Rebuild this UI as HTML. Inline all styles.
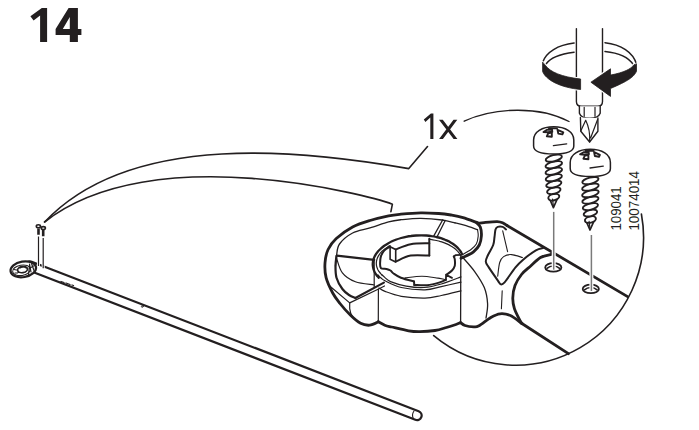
<!DOCTYPE html>
<html><head><meta charset="utf-8">
<style>
html,body{margin:0;padding:0;background:#fff;width:699px;height:430px;overflow:hidden}
svg{position:absolute;left:0;top:0}
.t{font-family:"Liberation Sans",sans-serif;fill:#231f20}
</style></head><body>
<svg width="699" height="430" viewBox="0 0 699 430">

<g fill="none" stroke="#231f20" stroke-linecap="round" stroke-linejoin="round">
<path d="M30.4,16.3 L41.8,8 L47.1,8 L47.1,41.9 L40.1,41.9 L40.1,15.6 L33.6,20.6 Z" fill="#231f20" stroke="none"/>
<path d="M68.6,8 L77.9,8 L77.9,29.1 L81.4,29.1 L81.4,34.9 L77.9,34.9 L77.9,41.9 L69.8,41.9 L69.8,34.9 L55.6,34.9 L55.6,29.1 L68.6,8 Z M62.8,29.1 L69.8,29.1 L69.8,16.9 Z" fill="#231f20" fill-rule="evenodd" stroke="none"/>
<path d="M433.4,113.6 L433.4,139 L430.3,139 L430.3,117.6 L425.4,121.9 L423.8,119.6 L430.9,113.6 Z" fill="#231f20" stroke="none"/>
<path d="M439,119.8 L442.8,119.8 L457.4,139 L453.6,139 Z M453.5,119.8 L457.3,119.8 L442.9,139 L439.1,139 Z" fill="#231f20" stroke="none"/>
<text class="t" transform="translate(621.2,230.6) rotate(-90)" font-size="14.5" textLength="44.3" lengthAdjust="spacingAndGlyphs" stroke="none" fill="#3a3637">109041</text>
<text class="t" transform="translate(638.8,230.6) rotate(-90)" font-size="14.5" textLength="59.6" lengthAdjust="spacingAndGlyphs" stroke="none" fill="#3a3637">10074014</text>
<path d="M427.5,146.5 L408.8,168.6 C308.5,151.2 132.1,129.1 44.6,222.0" stroke-width="1.6" />
<path d="M390.9,211.6 L392.4,204.2 C373.7,196.7 152.7,136.9 44.6,222.0" stroke-width="1.6" />
<path d="M464.2,121.2 C495,107 540,106 569,121.5" stroke-width="1.4" />
<path d="M641.4,214 A128,128 0 0 1 433.7,335.6" stroke-width="1.6" />
<path d="M479.0,223.3 C476.3,222.4 467.7,219.0 463.0,217.6 C458.3,216.2 455.1,215.7 451.0,215.0 C446.9,214.3 443.7,213.8 438.7,213.5 C433.7,213.2 427.1,212.8 420.8,212.9 C414.5,213.0 406.4,213.7 401.0,214.2 C395.6,214.7 393.8,214.8 388.6,215.9 C383.4,217.0 376.0,218.7 370.0,220.5 C364.0,222.3 358.2,224.0 352.6,227.0 C347.0,230.0 340.4,234.8 336.3,238.5 C332.2,242.2 330.0,245.4 328.1,249.5 C326.2,253.6 325.3,258.3 325.0,263.0 C324.7,267.7 324.8,272.7 326.1,277.7 C327.4,282.7 330.4,288.7 332.7,293.0 C335.0,297.3 337.1,299.8 340.0,303.5 C342.9,307.2 346.9,311.7 350.3,315.0 C353.7,318.3 357.4,321.6 360.6,323.3 C363.8,325.0 366.8,325.4 369.7,325.2 C372.6,324.9 376.9,322.4 378.3,321.8" stroke-width="2.8" />
<path d="M378.3,321.8 C379.4,322.4 382.6,324.3 384.8,325.2 C387.0,326.1 387.5,326.1 391.5,327.0 C395.5,327.9 403.9,330.0 408.6,330.8 C413.4,331.6 415.6,331.7 420.0,331.6 C424.4,331.6 430.6,331.2 435.0,330.5 C439.4,329.8 443.0,328.5 446.5,327.5 C450.0,326.5 453.6,325.3 456.0,324.5 C458.4,323.7 459.8,322.9 460.6,322.6" stroke-width="2.8" />
<path d="M460.6,322.6 C461.3,323.1 462.8,324.8 465.0,325.5 C467.2,326.2 471.4,326.8 473.7,326.9 C476.0,326.9 476.1,327.4 479.0,325.8 C481.9,324.2 487.3,319.5 490.8,317.5 C494.3,315.5 496.9,314.1 500.1,313.8 C503.4,313.5 506.7,313.9 510.3,315.5 C513.9,317.1 520.0,322.2 521.9,323.5" stroke-width="2.8" />
<path d="M521.9,323.5 L568.4,353.7" stroke-width="2.8" />
<path d="M479.0,223.3 C479.8,223.2 481.0,222.9 484.0,222.6 C487.0,222.3 494.0,221.5 497.2,221.6 C500.4,221.7 501.4,222.3 503.0,223.0 C504.6,223.7 506.3,225.1 507.0,225.5" stroke-width="2.8" />
<path d="M507,225.5 L627.6,296.6" stroke-width="2.8" />
<path d="M455.0,222.9 C452.8,222.4 447.7,220.8 442.0,220.0 C436.3,219.2 427.6,218.4 420.8,218.3 C414.0,218.2 406.7,219.1 401.3,219.7 C395.9,220.3 393.8,220.5 388.6,221.9 C383.4,223.3 376.0,226.1 370.0,227.9 C364.0,229.8 357.7,230.3 352.6,233.0 C347.5,235.7 342.2,240.2 339.5,244.0 C336.8,247.8 337.2,252.3 336.5,256.0 C335.8,259.7 335.7,264.3 335.5,266.0" stroke-width="1.3" />
<path d="M336.5,256.0 C336.3,257.7 335.5,262.4 335.5,266.0 C335.5,269.6 335.4,273.9 336.5,277.7 C337.6,281.5 340.3,286.1 342.4,289.0 C344.5,291.9 346.8,293.5 349.0,295.0 C351.2,296.5 354.3,297.5 355.4,298.0" stroke-width="2.2" />
<path d="M455.0,222.9 C456.7,223.3 461.4,224.3 465.2,225.4 C468.9,226.5 475.4,228.9 477.5,229.6" stroke-width="1.3" />
<path d="M476.5,222.6 C477.1,223.3 479.5,224.8 480.3,227.0 C481.1,229.2 481.6,233.0 481.4,236.0 C481.2,239.0 480.6,242.4 479.3,245.0 C478.0,247.6 475.7,250.0 473.5,251.8 C471.3,253.6 468.1,254.9 466.0,256.0 C463.9,257.1 461.8,257.9 461.0,258.3" stroke-width="2.8" />
<path d="M477.5,229.6 C477.6,230.7 478.4,233.6 478.2,236.0 C478.0,238.4 477.5,241.8 476.3,244.0 C475.1,246.2 473.2,247.8 471.0,249.5 C468.8,251.2 464.3,253.5 463.0,254.3" stroke-width="1.1" />
<path d="M336.8,255.7 L374.2,259.8" stroke-width="2.2" />
<path d="M442.8,219.7 L433.8,235.9 M445.2,220.5 L437.1,236.7" stroke-width="1.3" />
<path d="M355.4,298 L383.9,282.6" stroke-width="2.2" />
<path d="M329.4,285.8 L349.7,302.9 L378.6,289 L384.5,286" stroke-width="1.2" />
<path d="M349.7,302.9 L349.7,308.6 C350,312 351,315 353,317.4" stroke-width="1.2" />
<path d="M336.5,258.0 C337.5,260.5 339.2,268.9 342.4,272.8 C345.5,276.8 350.1,279.7 355.4,281.7 C360.7,283.7 371.1,284.4 374.2,285.0" stroke-width="1.2" />
<path d="M374.2,259.8 L374.2,287.4" stroke-width="1.2" />
<path d="M378.4,289 L378.3,321.8" stroke-width="1.2" />
<path d="M462.1,254.3 C461.8,253.8 461.2,252.4 460.6,251.4 C460.0,250.5 459.3,249.5 458.5,248.7 C457.7,247.8 456.8,246.9 455.9,246.1 C454.9,245.3 453.9,244.5 452.8,243.7 C451.6,243.0 450.4,242.3 449.2,241.6 C447.9,240.9 446.6,240.3 445.2,239.8 C443.9,239.2 442.4,238.7 440.9,238.2 C439.4,237.7 437.9,237.3 436.3,237.0 C434.7,236.6 433.1,236.3 431.5,236.1 C429.8,235.8 428.2,235.6 426.5,235.5 C424.8,235.4 423.1,235.3 421.3,235.3 C419.6,235.3 417.9,235.4 416.2,235.5 C414.5,235.6 412.7,235.7 411.0,236.0 C409.3,236.2 407.6,236.5 406.0,236.8 C404.3,237.2 402.7,237.6 401.1,238.0 C399.5,238.5 397.9,239.0 396.4,239.5 C394.9,240.1 393.4,240.7 392.0,241.3 C390.6,242.0 389.3,242.7 388.0,243.4 C386.7,244.1 385.5,244.9 384.3,245.7 C383.2,246.5 382.1,247.4 381.1,248.3 C380.1,249.2 379.2,250.1 378.3,251.0 C377.5,251.9 376.8,252.9 376.1,253.9 C375.5,254.9 374.9,255.9 374.4,256.9 C374.0,257.9 373.6,258.9 373.3,260.0 C373.1,261.0 372.9,262.0 372.8,263.1 C372.7,264.1 372.7,265.1 372.9,266.2 C373.0,267.2 373.2,268.2 373.5,269.2 C373.8,270.2 374.2,271.2 374.7,272.2 C375.2,273.2 375.8,274.1 376.5,275.0 C377.2,276.0 378.5,277.3 378.8,277.7" stroke-width="2.3" />
<path d="M378.0,274.9 C378.5,275.4 379.8,277.0 381.0,278.0 C382.2,279.0 381.6,279.2 385.0,280.8 C388.4,282.4 394.6,286.0 401.3,287.5 C408.0,289.0 418.3,289.9 425.0,289.8 C431.7,289.7 435.3,287.9 441.3,286.6 C447.3,285.3 457.7,282.9 461.0,282.2" stroke-width="1.2" />
<path d="M390.1,245.6 C389.7,245.8 388.2,246.6 387.3,247.2 C386.5,247.7 385.6,248.3 384.8,248.9 C384.0,249.5 383.3,250.1 382.6,250.8 C381.9,251.4 381.3,252.1 380.7,252.7 C380.1,253.4 379.6,254.1 379.1,254.8 C378.6,255.5 378.2,256.2 377.9,256.9 C377.5,257.6 377.2,258.3 377.0,259.1 C376.8,259.8 376.6,260.5 376.5,261.2 C376.4,262.0 376.3,262.7 376.3,263.5 C376.3,264.2 376.5,265.3 376.5,265.6 C376.6,266.0 376.4,265.3 376.5,265.6 C376.6,266.0 376.8,267.0 377.1,267.7 C377.3,268.4 377.6,269.0 377.9,269.7 C378.3,270.4 378.6,271.0 379.1,271.7 C379.5,272.3 380.0,272.9 380.6,273.5 C381.1,274.2 382.0,275.0 382.3,275.3" stroke-width="1.2" />
<path d="M381.5,274.5 C382.1,275.0 383.5,276.4 385.0,277.6 C386.5,278.8 387.0,280.2 390.5,281.6 C394.0,283.0 400.6,285.1 406.2,286.1 C411.8,287.1 418.1,287.9 424.0,287.5 C429.9,287.1 435.1,285.8 441.3,284.0 C447.5,282.2 457.7,278.1 461.0,276.9" stroke-width="1.2" />
<path d="M429.2,239.3 C429.8,239.4 431.6,239.6 432.8,239.8 C434.0,240.0 435.2,240.2 436.4,240.5 C437.6,240.8 438.7,241.0 439.8,241.4 C440.9,241.7 442.0,242.0 443.1,242.4 C444.2,242.8 445.2,243.2 446.2,243.6 C447.2,244.0 448.1,244.5 449.0,244.9 C450.0,245.4 450.8,245.9 451.7,246.4 C452.5,246.9 453.3,247.5 454.1,248.0 C454.8,248.6 455.5,249.2 456.2,249.8 C456.8,250.4 457.4,251.0 458.0,251.6 C458.5,252.2 459.0,252.9 459.5,253.5 C459.9,254.2 460.5,255.2 460.7,255.5" stroke-width="1.2" />
<path d="M379.0,288.0 C380.0,288.6 381.3,290.0 385.0,291.4 C388.7,292.8 394.6,295.2 401.3,296.3 C408.0,297.4 418.3,298.2 425.0,298.1 C431.7,298.0 435.3,296.7 441.3,295.5 C447.3,294.3 457.7,291.6 461.0,290.8" stroke-width="1.2" />
<path d="M390.1,246.7 L395.7,249.5 L395.7,262 L390.1,259.3 Z" stroke-width="1.6" />
<path d="M395.7,249.5 C398.2,248.6 405.1,245.2 410.7,244.2 C416.3,243.1 426.2,243.4 429.3,243.2" stroke-width="2" />
<path d="M395.7,261.6 C398.2,260.6 405.1,256.6 410.7,255.6 C416.3,254.6 426.2,255.6 429.3,255.6" stroke-width="2" />
<path d="M429.3,238.8 L429.3,255.6" stroke-width="2" />
<path d="M390.1,246.7 C389.1,247.3 385.7,249.0 384.2,250.6 C382.7,252.2 381.6,254.3 380.9,256.4 C380.2,258.5 380.1,261.1 380.1,263.1 C380.1,265.1 379.9,267.3 381.0,268.3 C382.1,269.3 384.9,268.6 386.5,269.0 C388.1,269.4 389.3,269.8 390.5,270.5 C391.7,271.2 391.9,272.3 393.6,273.5 C395.3,274.7 397.5,276.4 400.9,277.7 C404.3,279.0 411.8,280.9 414.0,281.5" stroke-width="2" />
<path d="M414,281.5 L414.3,285" stroke-width="2" />
<path d="M414.3,285.0 C416.4,285.0 423.0,285.6 427.1,285.2 C431.2,284.8 435.9,283.5 439.0,282.6 C442.1,281.7 444.8,280.3 445.9,279.8" stroke-width="2" />
<path d="M445.9,279.8 L446.1,274.7 L452,277.9" stroke-width="1.8" />
<path d="M446.4,274.7 C447.3,274.0 450.6,272.0 452.0,270.5 C453.4,269.0 454.3,267.7 454.8,265.8 C455.3,263.9 455.0,260.9 454.8,259.3 C454.6,257.8 454.0,257.0 453.8,256.5" stroke-width="2" />
<path d="M453.8,256.5 L455.5,255.2 L461.3,254.8" stroke-width="1.8" />
<path d="M405.1,277.9 C407.9,277.6 416.7,276.2 421.9,276.2 C427.1,276.2 432.3,277.3 436.2,277.9 C440.1,278.4 443.5,279.2 445.0,279.5" stroke-width="1.1" />
<path d="M460.8,256 L460.6,322.6" stroke-width="1.3" />
<path d="M462.0,256.5 C464.1,259.0 470.8,266.1 474.5,271.3 C478.2,276.5 482.1,282.2 484.3,287.6 C486.5,293.0 487.3,298.7 487.6,303.8 C487.9,308.9 486.3,315.6 486.0,318.0" stroke-width="1.3" />
<path d="M506.0,229.5 C505.4,229.1 504.1,227.3 502.7,226.9 C501.3,226.5 498.9,226.5 497.7,226.9 C496.5,227.3 496.0,227.8 495.5,229.5 C495.0,231.2 494.9,234.4 494.5,237.0 C494.1,239.6 494.3,242.0 493.2,245.0 C492.1,248.0 489.2,252.2 488.0,255.0 C486.8,257.8 485.7,259.4 485.8,261.5 C485.9,263.6 486.8,264.3 488.8,267.4 C490.8,270.5 495.7,277.5 497.7,280.3 C499.7,283.1 499.5,284.0 500.7,284.3 C501.9,284.6 502.1,285.1 504.6,282.3 C507.1,279.5 512.4,271.2 515.5,267.4 C518.6,263.6 520.0,262.4 523.4,259.5 C526.8,256.6 532.6,252.2 535.9,250.3 C539.2,248.4 542.1,248.3 543.3,247.9" stroke-width="2" />
<path d="M502.7,230.8 L507.6,251.6" stroke-width="1.1" />
<path d="M497.7,276.3 C498.0,274.0 498.7,265.8 499.7,262.5 C500.7,259.2 501.6,257.9 503.6,256.6 C505.6,255.3 508.5,254.4 511.6,254.6 C514.7,254.8 520.6,257.0 522.4,257.5" stroke-width="1.1" />
<path d="M502.2,290.8 L501.4,308.7" stroke-width="1.1" />
<path d="M552.5,254.4 C552.2,254.4 553.0,253.9 551.0,254.4 C549.0,254.9 543.9,255.6 540.5,257.5 C537.1,259.4 533.9,263.2 530.7,266.0 C527.5,268.8 524.1,271.2 521.5,274.5 C518.9,277.8 516.5,281.6 515.0,285.5 C513.5,289.4 512.9,294.1 512.8,298.0 C512.7,301.9 513.4,305.3 514.4,308.7 C515.4,312.1 517.8,316.0 519.0,318.5 C520.2,321.0 521.4,322.7 521.9,323.5" stroke-width="2.8" />
<ellipse cx="553.3" cy="267.4" rx="8.1" ry="4.3" stroke-width="1.8"/>
<path d="M547.0,268.3 C550.3,265.2 556.3,265.2 559.6,268.3" stroke-width="1.6" />
<path d="M553.7,211.9 L553.7,268.2" stroke-width="4" stroke="#fff" stroke-linecap="butt"/>
<path d="M553.7,211.9 L553.7,269.7" stroke-width="1.5" stroke="#7a7a7a" stroke-linecap="butt"/>
<ellipse cx="590.8" cy="288.9" rx="8.1" ry="4.3" stroke-width="1.8"/>
<path d="M584.5,289.8 C587.8,286.7 593.8,286.7 597.1,289.8" stroke-width="1.6" />
<path d="M591.4,235.0 L591.4,289.5" stroke-width="4" stroke="#fff" stroke-linecap="butt"/>
<path d="M591.4,235.0 L591.4,291.0" stroke-width="1.5" stroke="#7a7a7a" stroke-linecap="butt"/>
<path d="M30,266 L417,415.5" stroke-width="11.5" />
<path d="M30,266 L417,415.5" stroke-width="7" stroke="#fff"/>
<path d="M414,411 C412.5,413 412,416 413.5,419" stroke-width="1.1" />
<path d="M61,281.5 L64,282.5 M66,283 L70,284.5 M72,285 L73.5,285.5" stroke-width="1.3" />
<circle cx="142.3" cy="306.5" r="0.9" stroke-width="0.8"/>
<ellipse cx="23.3" cy="269.3" rx="12.9" ry="7.8" transform="rotate(-10 23.3 269.3)" fill="#fff" stroke-width="2.2"/>
<ellipse cx="21.5" cy="270.3" rx="9" ry="5.2" transform="rotate(-10 21.5 270.3)" stroke-width="1.1"/>
<ellipse cx="22.5" cy="269.6" rx="5" ry="3" transform="rotate(-10 22.5 269.6)" stroke-width="1.7"/>
<path d="M20,268 C22,266.5 25,266.5 26,268 M18,272.5 L25,272.5 M14,269.5 L16.5,270 M15,273 L17.5,273" stroke-width="1.2" />
<path d="M29.5,264 L31,272 M31.5,263.5 L34,270.5 M30,268 L33.5,266 M28.5,275 L29.5,265.5" stroke-width="1.2" />
<path d="M38.5,236.5 L38.5,266 M43.2,238 L43.2,268.3" stroke-width="3" stroke="#fff" stroke-linecap="butt"/>
<path d="M38.5,236.5 L38.5,266 M43.2,238 L43.2,268.3" stroke-width="1.2" stroke-linecap="butt"/>
<ellipse cx="38.4" cy="226.3" rx="2.1" ry="1.5" stroke-width="1.6" fill="#fff"/>
<ellipse cx="43.3" cy="228.1" rx="2.1" ry="1.5" stroke-width="1.6" fill="#fff"/>
<path d="M38.5,228.5 L38.5,234.8 M43.2,230 L43.2,236.2" stroke-width="2.6" stroke-linecap="butt"/>
<g>
 <path d="M533.6,146 L533.6,140 C533.6,132 542,126.8 553.7,126.8 C565.5,126.8 573.8,132 573.8,140 L573.8,146 C573.8,151 569,154 553.7,154 C538.4,154 533.6,151 533.6,146 Z" fill="#fff" stroke-width="1.5"/>
 <path d="M553.4,145.6 L566.7,143.8" stroke-width="1.3"/>
 <path d="M543.5,132 L547,129.8 L552,129.6 L552.3,131.8 L548,132.3 Z M546.8,136.3 L548.3,133.2 L551.8,132.6 L551.8,136.8 Z M557.5,129.8 L563.3,132.4 L562.4,134.4 L558.3,133.6 Z M549,128.2 L557,128.4" stroke-width="1.9" fill="#fff"/>
 <g stroke-width="1.9" fill="#fff">
  <path d="M548.8,197 L553.4,207.6 L558.8,195.5" stroke-width="1.7"/>
  <ellipse cx="553.8" cy="197.2" rx="5.6" ry="3.1" transform="rotate(-14 553.8 197.2)"/>
  <ellipse cx="553.8" cy="190.7" rx="6.9" ry="3.1" transform="rotate(-14 553.8 190.7)"/>
  <ellipse cx="553.8" cy="184.2" rx="7.8" ry="3.1" transform="rotate(-14 553.8 184.2)"/>
  <ellipse cx="553.8" cy="177.7" rx="8.3" ry="3.1" transform="rotate(-14 553.8 177.7)"/>
  <ellipse cx="553.8" cy="171.2" rx="8.5" ry="3.1" transform="rotate(-14 553.8 171.2)"/>
  <ellipse cx="553.8" cy="164.7" rx="8.5" ry="3.1" transform="rotate(-14 553.8 164.7)"/>
  <ellipse cx="553.8" cy="158.2" rx="8.3" ry="3.1" transform="rotate(-14 553.8 158.2)"/>
  <path d="M552.5,199 L553.4,206" stroke-width="1.2"/>
 </g>
</g>
<g transform="translate(36.6,22.4)">
 <path d="M533.6,146 L533.6,140 C533.6,132 542,126.8 553.7,126.8 C565.5,126.8 573.8,132 573.8,140 L573.8,146 C573.8,151 569,154 553.7,154 C538.4,154 533.6,151 533.6,146 Z" fill="#fff" stroke-width="1.5"/>
 <path d="M553.4,145.6 L566.7,143.8" stroke-width="1.3"/>
 <path d="M543.5,132 L547,129.8 L552,129.6 L552.3,131.8 L548,132.3 Z M546.8,136.3 L548.3,133.2 L551.8,132.6 L551.8,136.8 Z M557.5,129.8 L563.3,132.4 L562.4,134.4 L558.3,133.6 Z M549,128.2 L557,128.4" stroke-width="1.9" fill="#fff"/>
 <g stroke-width="1.9" fill="#fff">
  <path d="M548.8,197 L553.4,207.6 L558.8,195.5" stroke-width="1.7"/>
  <ellipse cx="553.8" cy="197.2" rx="5.6" ry="3.1" transform="rotate(-14 553.8 197.2)"/>
  <ellipse cx="553.8" cy="190.7" rx="6.9" ry="3.1" transform="rotate(-14 553.8 190.7)"/>
  <ellipse cx="553.8" cy="184.2" rx="7.8" ry="3.1" transform="rotate(-14 553.8 184.2)"/>
  <ellipse cx="553.8" cy="177.7" rx="8.3" ry="3.1" transform="rotate(-14 553.8 177.7)"/>
  <ellipse cx="553.8" cy="171.2" rx="8.5" ry="3.1" transform="rotate(-14 553.8 171.2)"/>
  <ellipse cx="553.8" cy="164.7" rx="8.5" ry="3.1" transform="rotate(-14 553.8 164.7)"/>
  <ellipse cx="553.8" cy="158.2" rx="8.3" ry="3.1" transform="rotate(-14 553.8 158.2)"/>
  <path d="M552.5,199 L553.4,206" stroke-width="1.2"/>
 </g>
</g>
<!-- screwdriver -->
<path d="M576.4,28.6 L576.4,101.5 C576.4,104.8 578,106.3 581.5,106.3 L597.5,106.3 C601,106.3 602.5,104.8 602.5,101.5 L602.5,28.6" stroke-width="1.4" fill="#fff"/>
<path d="M579.4,106.3 L579.4,113.2 C580.5,116.5 585,118.2 589.6,118.2 C594.5,118.2 599,116.5 600.2,113.2 L600.2,106.3" stroke-width="1.4" fill="#fff"/>
<path d="M584.2,107.3 L584.2,116.3 M595,107.3 L595,116.3" stroke-width="1.2"/>
<path d="M580.4,117.5 L580.8,131.2 L589.6,142 L597.9,131.2 L597.9,118" stroke-width="1.4" fill="#fff"/>
<path d="M585.7,120.3 L580.8,131 M585.7,120.3 C588.5,126 590.3,133 589.6,142 M597.6,119.5 L590.6,138" stroke-width="1.2"/>
<!-- rotation arrow -->
<path d="M574.1,43.1 C558,45 546,52 542.6,62.5 M605,42.7 C621,44.5 633,52 636.5,64.1" stroke-width="1.5"/>
<path d="M574.1,52.2 C560,54 550,58 546,64 M605,51.6 C619,53 629,58 633.4,64.9" stroke-width="1.5"/>
<path id="bandL" d="M542.6,62.5 L542.6,71.5 C546,80 560,87.5 580.6,89.5 L580.6,79 C562,77 550,72 545.5,65.5 Z" fill="#231f20" stroke="#fff" stroke-width="3"/>
<path id="bandR" d="M636.5,64.1 L636.5,71.2 C634,77 628,81 610.5,88.5 L610.5,96.4 L590.9,82.2 L610.5,68.8 L610.5,75.1 C624,72.5 631,69 633.8,65 Z" fill="#231f20" stroke="#fff" stroke-width="3"/>
<path d="M542.6,62.5 L542.6,71.5 C546,80 560,87.5 580.6,89.5 L580.6,79 C562,77 550,72 545.5,65.5 Z" fill="#231f20" stroke-width="0.8"/>
<path d="M636.5,64.1 L636.5,71.2 C634,77 628,81 610.5,88.5 L610.5,96.4 L590.9,82.2 L610.5,68.8 L610.5,75.1 C624,72.5 631,69 633.8,65 Z" fill="#231f20" stroke-width="0.8"/>
</g>
</svg>
</body></html>
